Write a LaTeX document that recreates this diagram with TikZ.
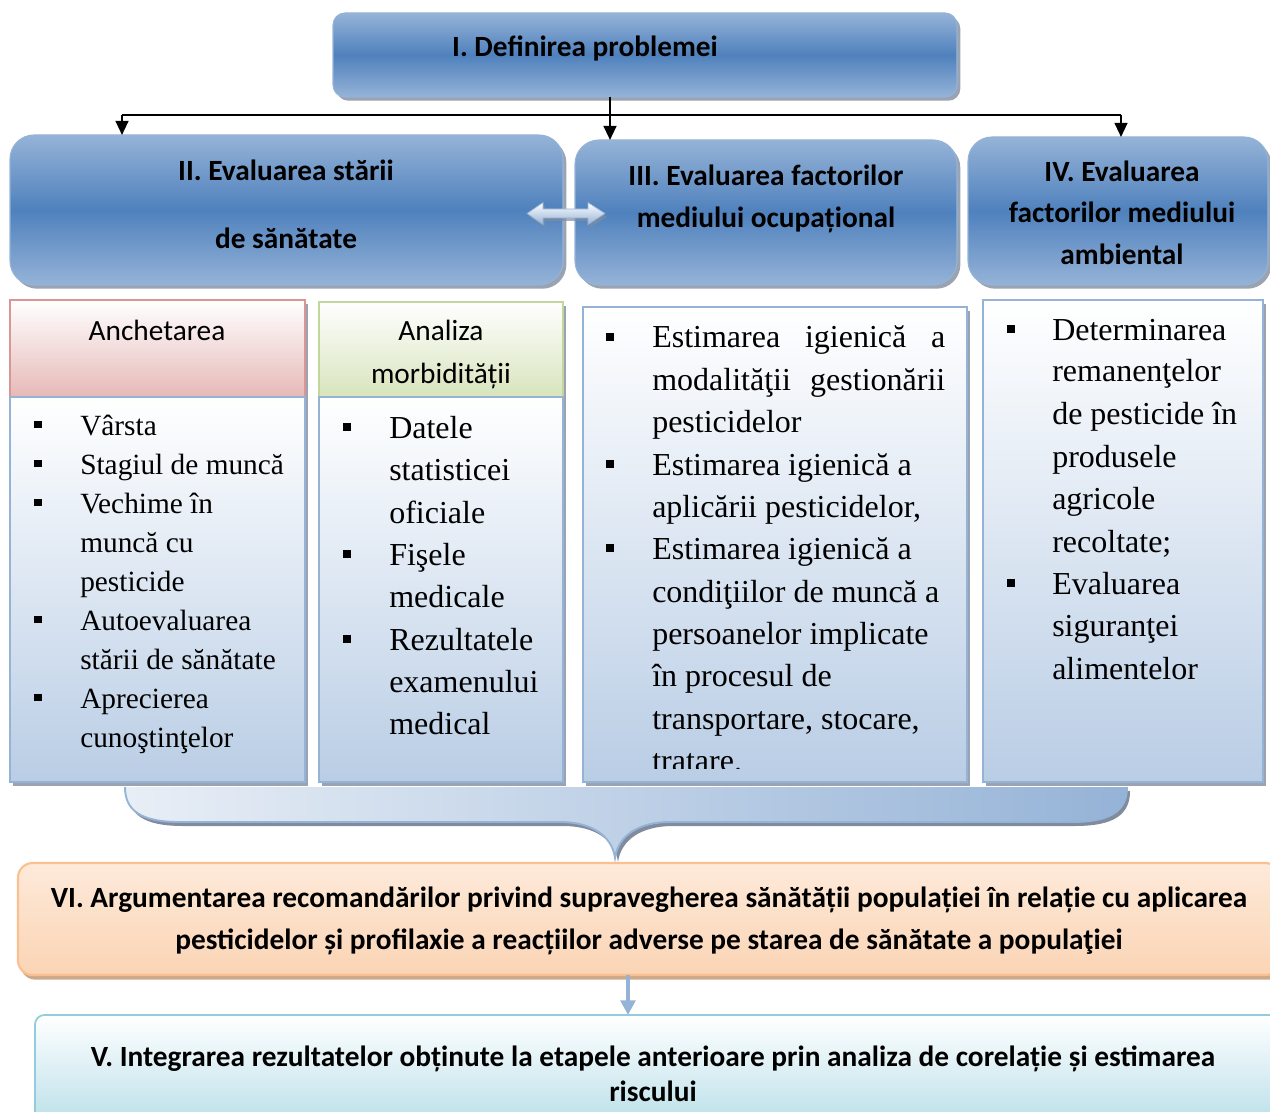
\documentclass[tikz,border=0pt]{standalone}
\usepackage{fontspec}
\setmainfont{Liberation Serif}
\newfontfamily\hfont{Carlito}
\usetikzlibrary{shadows,fit,arrows.meta}
\definecolor{bluemid}{RGB}{79,129,189}
\definecolor{bluelight}{RGB}{149,179,215}
\definecolor{bluepale}{RGB}{185,205,229}
\definecolor{bluevpale}{RGB}{222,231,242}
\definecolor{redb}{RGB}{217,150,148}
\definecolor{redf}{RGB}{230,185,184}
\definecolor{greenb}{RGB}{195,214,155}
\definecolor{greenf}{RGB}{215,228,188}
\definecolor{orangeb}{RGB}{250,192,144}
\definecolor{orangef}{RGB}{251,212,180}
\definecolor{orangep}{RGB}{253,234,218}
\definecolor{cyanb}{RGB}{147,205,221}
\definecolor{cyanf}{RGB}{183,222,232}
\definecolor{shtan}{RGB}{200,160,125}
\definecolor{shgray}{RGB}{128,140,158}
\begin{document}
\begin{tikzpicture}[x=0.75pt,y=-0.75pt,
  box/.style={inner sep=0pt,outer sep=0pt},
  shad/.style={drop shadow={shadow xshift=2.5pt,shadow yshift=-2.8pt,fill=shgray,opacity=0.8}},
  bluebox/.style={box,shad,draw=bluelight,line width=0.8pt,top color=bluelight,bottom color=bluelight,middle color=bluemid},
  colbox/.style={box,shad,draw=bluelight,line width=1.3pt,top color=white,bottom color=bluepale},
  redhead/.style={box,shad,draw=redb,line width=1.3pt,top color=white,bottom color=redf},
  greenhead/.style={box,shad,draw=greenb,line width=1.3pt,top color=white,bottom color=greenf},
  htxt/.style={inner sep=0pt,anchor=base,font=\hfont\bfseries\fontsize{22}{26}\selectfont},
  stxt/.style={inner sep=0pt,anchor=base,font=\hfont\fontsize{22}{26}\selectfont},
  ltxt/.style={inner sep=0pt,anchor=base west,font=\fontsize{24}{28}\selectfont},
  ltxts/.style={inner sep=0pt,anchor=base west,font=\fontsize{22}{26}\selectfont},
  bul/.style={fill=black,inner sep=0pt,minimum size=5.5pt},
  conn/.style={line width=1.6pt,black},
  arr/.style={conn,-{Triangle[width=9.5pt,length=10.5pt]}}]
\useasboundingbox (0,0) rectangle (1270,1112);
\clip (0,0) rectangle (1270,1112);
% ---------- top blue boxes
\node[bluebox,rounded corners=9pt,fit={(333,13) (957,97)}] (b1) {};
\node[htxt] (t1) at (585,57) {I. Definirea problemei};
\node[bluebox,rounded corners=18pt,fit={(10,135) (563,285)}] (b2) {};
\node[htxt] (t2a) at (286,181) {II. Evaluarea stării};
\node[htxt] (t2b) at (286,249) {de sănătate};
\node[bluebox,rounded corners=18pt,fit={(575,140) (957,285)}] (b3) {};
\node[htxt] (t3a) at (766,186) {III. Evaluarea factorilor};
\node[htxt] (t3b) at (766,228) {mediului ocupațional};
\node[bluebox,rounded corners=18pt,fit={(968,137) (1268,285)}] (b4) {};
\node[htxt] (t4a) at (1122,182) {IV. Evaluarea};
\node[htxt] (t4b) at (1122,223) {factorilor mediului};
\node[htxt] (t4c) at (1122,265) {ambiental};
% ---------- connectors
\coordinate (j) at (610,115);
\coordinate (hl) at (122,115);
\coordinate (hr) at (1121,115);
\draw[conn] (hl) -- (hr);
\draw[arr] (b1.south -| j) -- (j |- b3.north);
\draw[arr] (hl) -- (hl |- b2.north);
\draw[arr] (hr) -- (hr |- b4.north);
% double arrow
\fill[shgray,opacity=0.7,shift={(2,3)}] (527,213.5) -- (543,202.5) -- (543,209) -- (588,209) -- (588,202.5) -- (605,213.5) -- (588,224.5) -- (588,218) -- (543,218) -- (543,224.5) -- cycle;
\shade[top color=white,bottom color=bluelight,draw=bluelight,line width=0.5pt] (527,213.5) -- (543,202.5) -- (543,209) -- (588,209) -- (588,202.5) -- (605,213.5) -- (588,224.5) -- (588,218) -- (543,218) -- (543,224.5) -- cycle;
% ---------- brace
\fill[shgray,shift={(3,4)}] (125,787) .. controls (125,810) and (140,822) .. (180,822) -- (560,822) .. controls (592,822) and (612,836) .. (615,858) .. controls (618,836) and (638,822) .. (670,822) -- (1072,822) .. controls (1112,822) and (1127,810) .. (1127,787) -- cycle;
\shade[left color=bluevpale!70!white,right color=bluelight] (125,787) .. controls (125,810) and (140,822) .. (180,822) -- (560,822) .. controls (592,822) and (612,836) .. (615,858) .. controls (618,836) and (638,822) .. (670,822) -- (1072,822) .. controls (1112,822) and (1127,810) .. (1127,787) -- cycle;
\draw[bluelight,line width=1.4pt] (125,787) .. controls (125,810) and (140,822) .. (180,822) -- (560,822) .. controls (592,822) and (612,836) .. (615,858) .. controls (618,836) and (638,822) .. (670,822) -- (1072,822) .. controls (1112,822) and (1127,810) .. (1127,787);
% ---------- column headers
\node[redhead,fit={(10,300) (305,397)}] (h1) {};
\node[stxt] (h1t) at (157,340) {Anchetarea};
\node[greenhead,fit={(319,302) (563,397)}] (h2) {};
\node[stxt] (h2a) at (441,341) {Analiza};
\node[stxt] (h2b) at (441,383) {morbidității};
% ---------- column boxes
\node[colbox,fit={(10,397) (305,782)}] (c1) {};
\node[colbox,fit={(319,397) (563,782)}] (c2) {};
\node[colbox,fit={(583,307) (967,782)}] (c3) {};
\node[colbox,fit={(983,300) (1263,782)}] (c4) {};
% column 1
\foreach \y [count=\i] in {435,474,513,630,708} \node[bul] (c1b\i) at (38,\y-10.5) {};
\foreach \y/\t [count=\i] in {435/Vârsta,474/Stagiul de muncă,513/Vechime în,552/muncă cu,591/pesticide,630/Autoevaluarea,669/stării de sănătate,708/Aprecierea,747/cunoştinţelor}
  \node[ltxts] (c1l\i) at (80,\y) {\t};
% column 2
\foreach \y [count=\i] in {438,565,650} \node[bul] (c2b\i) at (347,\y-11) {};
\foreach \y/\t [count=\i] in {438/Datele,480/statisticei,523/oficiale,565/Fişele,607/medicale,650/Rezultatele,692/examenului,734/medical}
  \node[ltxt] (c2l\i) at (389,\y) {\t};
% column 3
\foreach \y [count=\i] in {348,475,559} \node[bul] (c3b\i) at (610,\y-11) {};
\node[ltxt] (c3l1) at (652,348) {\hbox to 219.75pt{Estimarea\hfill igienică\hfill a}};
\node[ltxt] (c3l2) at (652,390) {\hbox to 219.75pt{modalităţii\hfill gestionării}};
\foreach \y/\t [count=\i from 3] in {432/pesticidelor,475/Estimarea igienică a,517/{aplicării pesticidelor,},559/Estimarea igienică a,602/condiţiilor de muncă a,644/persoanelor implicate,686/în procesul de,729/{transportare, stocare,}}
  \node[ltxt] (c3l\i) at (652,\y) {\t};
\begin{scope}
\clip (583,300) rectangle (967,768);
\node[ltxt] (c3l11) at (652,771) {tratare.};
\end{scope}
% column 4
\foreach \y [count=\i] in {340,594} \node[bul] (c4b\i) at (1011,\y-11) {};
\foreach \y/\t [count=\i] in {340/Determinarea,382/remanenţelor,424/de pesticide în,467/produsele,509/agricole,552/recoltate;,594/Evaluarea,636/siguranţei,679/alimentelor}
  \node[ltxt] (c4l\i) at (1052,\y) {\t};
% ---------- VI box
\node[box,drop shadow={shadow xshift=2pt,shadow yshift=-3.5pt,fill=shtan,opacity=0.9},draw=orangeb,line width=1.6pt,top color=orangep,bottom color=orangef,rounded corners=11pt,fit={(18,863) (1280,975)}] (b6) {};
\node[htxt] (t6a) at (649,907) {VI. Argumentarea recomandărilor privind supravegherea sănătății populației în relație cu aplicarea};
\node[htxt] (t6b) at (649,949) {pesticidelor și profilaxie a reacțiilor adverse pe starea de sănătate a populaţiei};
% ---------- V box
\node[box,draw=cyanb,line width=1.3pt,top color=white,bottom color=cyanf,rounded corners=7pt,fit={(35,1015) (1285,1130)}] (b5) {};
\node[htxt] (t5a) at (653,1066) {V. Integrarea rezultatelor obținute la etapele anterioare prin analiza de corelație și estimarea};
\node[htxt] (t5b) at (653,1101) {riscului};
\draw[bluelight,line width=3.5pt,-{Triangle[width=11pt,length=11pt]}] (b6.south -| 628,0) -- (b5.north -| 628,0);
\end{tikzpicture}
\end{document}
